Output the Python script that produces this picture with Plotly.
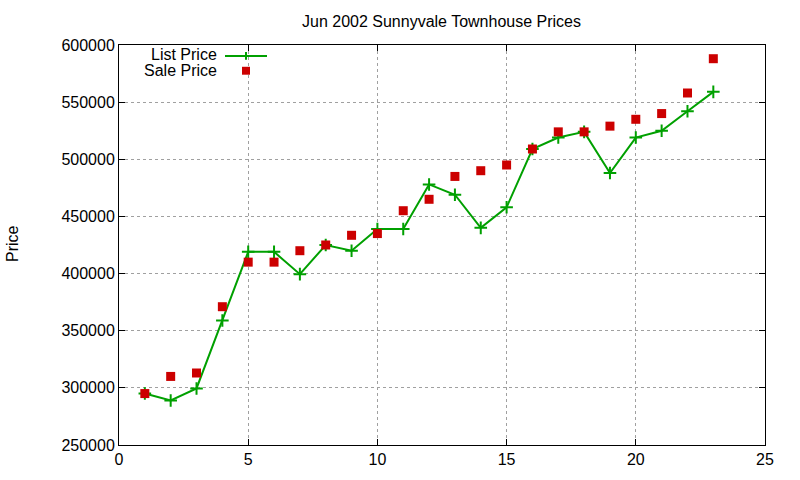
import plotly.graph_objects as go

x_vals = list(range(1, 24))
list_price = [295000, 289000, 299500, 359000, 419000, 419000, 399500, 425000, 420000,
              439000, 439000, 478000, 469000, 440000, 458000, 509000, 519000, 524000,
              488000, 519000, 525000, 542000, 559000]
sale_price = [295000, 310000, 313000, 371000, 410000, 410000, 420000, 425000, 433500,
              435000, 455000, 465000, 485000, 490000, 495000, 509000, 524000, 524000,
              529000, 535000, 540000, 558000, 588000]
y_ticks = [250000, 300000, 350000, 400000, 450000, 500000, 550000, 600000]
x_ticks = [0, 5, 10, 15, 20, 25]

GREEN = "#00a000"
RED = "#cc0000"
FONT = "Liberation Sans, Arial, sans-serif"
FS = 16

fig = go.Figure()
fig.add_trace(go.Scatter(
    x=x_vals, y=list_price, mode="lines+markers", name="List Price",
    line=dict(color=GREEN, width=2),
    marker=dict(symbol="cross-thin", size=9, line=dict(color=GREEN, width=2)),
))
fig.add_trace(go.Scatter(
    x=x_vals, y=sale_price, mode="markers", name="Sale Price",
    marker=dict(symbol="square", size=9, color=RED),
))

L, R, T, B = 119, 35, 45, 31
W, H = 800, 480
pw, ph = W - L - R, H - T - B

def px(xp):
    return (xp - L) / pw

def py(yp):
    return (H - B - yp) / ph

axis_common = dict(
    showline=True, linecolor="black", linewidth=1, mirror="allticks",
    ticks="inside", ticklen=6, tickcolor="black", tickwidth=1,
    showgrid=True, gridcolor="#a0a0a0", griddash="dot", gridwidth=1,
    zeroline=False, tickfont=dict(family=FONT, size=FS, color="black"),
)
fig.update_xaxes(range=[0, 25], tickvals=x_ticks, **axis_common)
fig.update_yaxes(range=[250000, 600000], tickvals=y_ticks,
                 ticktext=[str(v) for v in y_ticks], **axis_common)

# legend (gnuplot style: text left, sample right)
shapes = [
    dict(type="line", xref="paper", yref="paper", x0=px(225), x1=px(267),
         y0=py(56), y1=py(56), line=dict(color=GREEN, width=2)),
    dict(type="line", xref="paper", yref="paper", x0=px(246), x1=px(246),
         y0=py(52), y1=py(60), line=dict(color=GREEN, width=2)),
    dict(type="rect", xref="paper", yref="paper", x0=px(242), x1=px(250),
         y0=py(67), y1=py(75), fillcolor=RED, line=dict(width=0)),
]
annotations = [
    dict(text="List Price", xref="paper", yref="paper", x=px(219), y=py(55),
         xanchor="right", yanchor="middle", showarrow=False,
         font=dict(family=FONT, size=FS, color="black")),
    dict(text="Sale Price", xref="paper", yref="paper", x=px(219), y=py(71),
         xanchor="right", yanchor="middle", showarrow=False,
         font=dict(family=FONT, size=FS, color="black")),
    dict(text="Price", xref="paper", yref="paper", x=px(12), y=py(246),
         xanchor="center", yanchor="middle", textangle=-90, showarrow=False,
         font=dict(family=FONT, size=FS, color="black")),
    dict(text="Jun 2002 Sunnyvale Townhouse Prices", xref="paper", yref="paper",
         x=px(441), y=py(21), xanchor="center", yanchor="middle", showarrow=False,
         font=dict(family=FONT, size=FS, color="black")),
]

fig.update_layout(
    width=W, height=H, margin=dict(l=L, r=R, t=T, b=B),
    paper_bgcolor="white", plot_bgcolor="white",
    showlegend=False, shapes=shapes, annotations=annotations,
)

fig.write_html("out.html")
